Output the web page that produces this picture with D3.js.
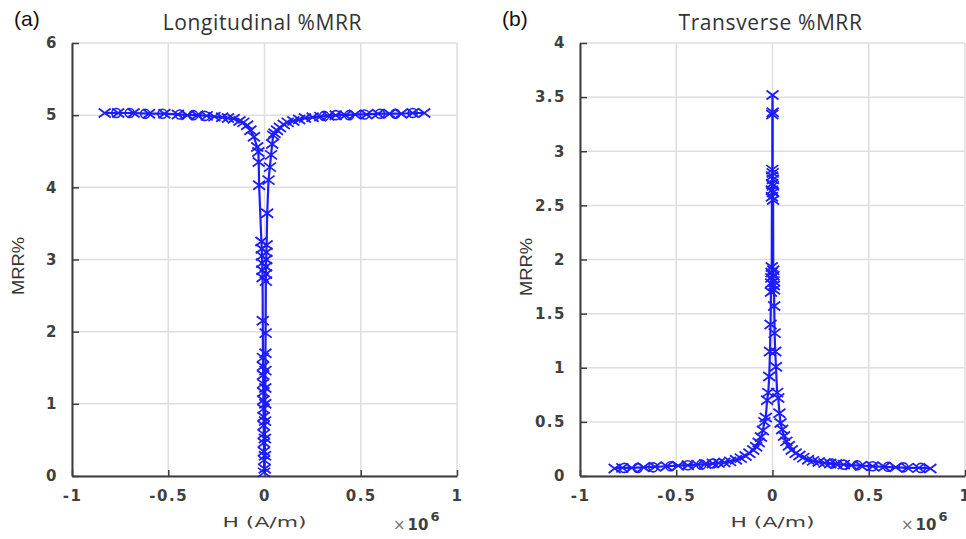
<!DOCTYPE html>
<html>
<head>
<meta charset="utf-8">
<script src="https://cdn.jsdelivr.net/npm/d3@7"></script>
<style>
  html, body { margin: 0; padding: 0; background: #ffffff; }
  svg { display: block; }
</style>
</head>
<body>
<svg id="chart" width="966" height="539"></svg>
<script>
// ---------------- DATA ----------------
const xTicks = [-1, -0.5, 0, 0.5, 1];
const xTickLabels = ["-1", "-0.5", "0", "0.5", "1"];
const longYTicks = [0, 1, 2, 3, 4, 5, 6];
const longYTickLabels = ["0", "1", "2", "3", "4", "5", "6"];
const transYTicks = [0, 0.5, 1, 1.5, 2, 2.5, 3, 3.5, 4];
const transYTickLabels = ["0", "0.5", "1", "1.5", "2", "2.5", "3", "3.5", "4"];

// Longitudinal sweep (x markers), H in units of 1e6 A/m
const longSweepH = [0.83, 0.77, 0.71, 0.65, 0.59, 0.53, 0.47, 0.42, 0.37, 0.33, 0.29, 0.25, 0.21, 0.18, 0.15, 0.12, 0.10, 0.08, 0.065, 0.052, 0.045, 0.04, 0.034, 0.028, 0.021, 0.014,
  0.011, 0.010, 0.009, 0.008, 0.008, 0.007, 0.006, 0.005, 0.005, 0.004, 0.004, 0.003, 0.002, 0.002, 0.001,
  -0.002, -0.002, -0.003, -0.003, -0.004, -0.004, -0.005, -0.005, -0.006, -0.006, -0.007, -0.007, -0.008, -0.008, -0.009, -0.010, -0.011, -0.012, -0.013, -0.014, -0.016,
  -0.028, -0.030, -0.032, -0.038, -0.055, -0.073, -0.09, -0.11, -0.13, -0.16, -0.19, -0.22, -0.26, -0.30, -0.35, -0.40, -0.45, -0.52, -0.60, -0.68, -0.76, -0.83];
const longSweepMRR = [5.03, 5.03, 5.02, 5.02, 5.02, 5.01, 5.01, 5.0, 5.0, 4.99, 4.98, 4.97, 4.96, 4.94, 4.92, 4.90, 4.87, 4.83, 4.79, 4.75, 4.72, 4.60, 4.45, 4.28, 4.10, 3.64,
  3.20, 3.10, 3.00, 2.90, 2.80, 2.70, 1.98, 1.70, 1.46, 1.22, 1.00, 0.76, 0.52, 0.28, 0.10,
  0.05, 0.22, 0.34, 0.46, 0.58, 0.70, 0.82, 0.93, 1.05, 1.16, 1.28, 1.40, 1.52, 1.64, 2.15, 2.75, 2.85, 2.95, 3.05, 3.15, 3.25,
  4.03, 4.35, 4.49, 4.56, 4.70, 4.79, 4.86, 4.90, 4.92, 4.95, 4.96, 4.97, 4.98, 4.99, 5.0, 5.0, 5.01, 5.02, 5.02, 5.03, 5.03, 5.03];
// Longitudinal circle-marker points (outer regions)
const longOpenLeftH = [-0.77, -0.70, -0.62, -0.53, -0.44, -0.37, -0.31];
const longOpenLeftMRR = [5.03, 5.03, 5.02, 5.02, 5.01, 5.0, 4.99];
const longOpenRightH = [0.31, 0.37, 0.44, 0.52, 0.60, 0.68, 0.77];
const longOpenRightMRR = [4.99, 5.0, 5.0, 5.01, 5.02, 5.02, 5.03];

// Transverse sweep (x markers)
const transSweepH = [0.82, 0.76, 0.70, 0.64, 0.58, 0.52, 0.46, 0.41, 0.37, 0.33, 0.30, 0.27, 0.24, 0.21, 0.185, 0.16, 0.14, 0.12, 0.10, 0.085, 0.072, 0.06, 0.05, 0.042, 0.036, 0.03, 0.024, 0.018, 0.014, 0.011, 0.009, 0.008, 0.007, 0.006, 0.005, 0.004, 0.003, 0.003, 0.002, 0.002, 0.001, 0.001, 0.0,
  -0.001, -0.001, -0.002, -0.002, -0.003, -0.003, -0.004, -0.005, -0.006, -0.007, -0.008, -0.010, -0.013, -0.017, -0.022, -0.028, -0.035, -0.042, -0.05, -0.06, -0.072, -0.085, -0.10, -0.12, -0.14, -0.165, -0.19, -0.22, -0.25, -0.28, -0.31, -0.35, -0.39, -0.44, -0.49, -0.55, -0.61, -0.67, -0.73, -0.78, -0.82];
const transSweepMRR = [0.07, 0.075, 0.075, 0.08, 0.085, 0.09, 0.095, 0.10, 0.105, 0.11, 0.115, 0.12, 0.13, 0.14, 0.15, 0.17, 0.19, 0.21, 0.24, 0.28, 0.32, 0.37, 0.43, 0.49, 0.58, 0.72, 0.77, 1.01, 1.15, 1.32, 1.57, 1.72, 1.76, 1.80, 1.85, 1.90, 2.55, 2.62, 2.68, 2.74, 2.80, 3.36, 3.52,
  3.34, 2.83, 2.77, 2.70, 2.64, 2.58, 1.93, 1.88, 1.83, 1.78, 1.70, 1.40, 1.15, 0.92, 0.77, 0.70, 0.54, 0.50, 0.42, 0.36, 0.31, 0.27, 0.24, 0.21, 0.185, 0.165, 0.15, 0.135, 0.125, 0.12, 0.115, 0.11, 0.105, 0.10, 0.095, 0.09, 0.085, 0.08, 0.075, 0.075, 0.07];
const transOpenLeftH = [-0.77, -0.70, -0.62, -0.53, -0.44, -0.37, -0.31];
const transOpenLeftMRR = [0.075, 0.075, 0.08, 0.09, 0.10, 0.105, 0.115];
const transOpenRightH = [0.31, 0.37, 0.44, 0.52, 0.60, 0.68, 0.77];
const transOpenRightMRR = [0.115, 0.105, 0.10, 0.09, 0.085, 0.08, 0.075];

const titles = ["Longitudinal %MRR", "Transverse %MRR"];
const panelTags = ["(a)", "(b)"];
const xLabel = "H (A/m)";
const yLabel = "MRR%";

// ---------------- DRAW ----------------
const svg = d3.select("#chart");
const zip = (a, b) => a.map((v, i) => [v, b[i]]);
const BLUE = "#0a0aff";

function drawPanel(cfg) {
  const g = svg.append("g");
  const x = d3.scaleLinear().domain([-1, 1]).range([cfg.left, cfg.right]);
  const y = d3.scaleLinear().domain([0, cfg.yMax]).range([cfg.bottom, cfg.top]);

  // grid
  g.append("g").selectAll("line").data(xTicks).join("line")
    .attr("x1", d => x(d)).attr("x2", d => x(d))
    .attr("y1", cfg.top).attr("y2", cfg.bottom)
    .attr("stroke", "#dedede").attr("stroke-width", 1.5);
  g.append("g").selectAll("line").data(cfg.yTicks).join("line")
    .attr("x1", cfg.left).attr("x2", cfg.right)
    .attr("y1", d => y(d)).attr("y2", d => y(d))
    .attr("stroke", "#dedede").attr("stroke-width", 1.5);

  // axes
  const xAxis = d3.axisBottom(x).tickValues(xTicks).tickFormat((d, i) => xTickLabels[i])
    .tickSizeInner(-6).tickSizeOuter(0).tickPadding(14);
  const yAxis = d3.axisLeft(y).tickValues(cfg.yTicks).tickFormat((d, i) => cfg.yTickLabels[i])
    .tickSizeInner(-7).tickSizeOuter(0).tickPadding(14);
  const gx = g.append("g").attr("transform", `translate(0,${cfg.bottom})`).call(xAxis);
  const gy = g.append("g").attr("transform", `translate(${cfg.left},0)`).call(yAxis);
  [gx, gy].forEach(a => {
    a.select(".domain").attr("stroke", "#3c3c3c").attr("stroke-width", 2);
    a.selectAll(".tick line").attr("stroke", "#3c3c3c").attr("stroke-width", 1.5);
    a.selectAll(".tick text")
      .attr("font-family", "DejaVu Sans").attr("font-weight", "bold")
      .attr("font-size", 15).attr("letter-spacing", 1.5).attr("fill", "#404040");
  });
  gx.selectAll(".tick text").attr("dy", "0.71em");

  // data line + markers
  const line = d3.line().x(d => x(d[0])).y(d => y(d[1]));
  const sweep = zip(cfg.sweepH, cfg.sweepV);
  const data = g.append("g").attr("opacity", 0.92);
  data.append("path").datum(sweep).attr("d", line)
    .attr("fill", "none").attr("stroke", BLUE).attr("stroke-width", 2.2);
  const s = 6;
  data.append("g").selectAll("path").data(sweep).join("path")
    .attr("d", d => {
      const cx = x(d[0]), cy = y(d[1]);
      return `M${cx - s},${cy - s * 0.75}L${cx + s},${cy + s * 0.75}M${cx - s},${cy + s * 0.75}L${cx + s},${cy - s * 0.75}`;
    })
    .attr("stroke", BLUE).attr("stroke-width", 1.8).attr("fill", "none");
  [zip(cfg.openLH, cfg.openLV), zip(cfg.openRH, cfg.openRV)].forEach(pts => {
    data.append("g").selectAll("circle").data(pts).join("circle")
      .attr("cx", d => x(d[0])).attr("cy", d => y(d[1])).attr("r", 4.5)
      .attr("fill", "none").attr("stroke", BLUE).attr("stroke-width", 1.6);
  });

  // titles and labels
  const mid = (cfg.left + cfg.right) / 2;
  g.append("text").attr("x", mid - 2).attr("y", 30).attr("text-anchor", "middle")
    .attr("font-family", "Open Sans").attr("font-size", 21).attr("fill", "#333")
    .attr("letter-spacing", 0.6).text(cfg.title);
  g.append("text").attr("x", cfg.tagX).attr("y", 26)
    .attr("font-family", "Liberation Sans").attr("font-size", 21).attr("fill", "#111")
    .text(cfg.tag);
  g.append("text").attr("x", x(0) - 42).attr("y", 527)
    .attr("font-family", "DejaVu Sans").attr("font-size", 14).attr("fill", "#404040")
    .attr("textLength", 84).attr("lengthAdjust", "spacingAndGlyphs").text(xLabel);
  g.append("text").attr("transform", `translate(${cfg.left - 48},${cfg.yLabelY}) rotate(-90)`)
    .attr("text-anchor", "middle")
    .attr("font-family", "Liberation Sans").attr("font-size", 17).attr("fill", "#333")
    .attr("textLength", 58).attr("lengthAdjust", "spacingAndGlyphs").text(yLabel);
  const ex = g.append("text").attr("x", cfg.right - 64).attr("y", 530)
    .attr("font-family", "DejaVu Sans").attr("fill", "#404040");
  ex.append("tspan").attr("font-size", 15).attr("fill", "#777").text("\u00d7");
  ex.append("tspan").attr("font-size", 15).attr("font-weight", "bold").attr("dx", 2).text("10");
  ex.append("tspan").attr("font-size", 13).attr("font-weight", "bold").attr("dx", 2).attr("dy", -9).text("6");
}

drawPanel({
  left: 72, right: 457, top: 43, bottom: 476, yMax: 6,
  yTicks: longYTicks, yTickLabels: longYTickLabels,
  sweepH: longSweepH, sweepV: longSweepMRR,
  openLH: longOpenLeftH, openLV: longOpenLeftMRR, openRH: longOpenRightH, openRV: longOpenRightMRR,
  title: titles[0], tag: panelTags[0], tagX: 14, yLabelY: 266
});
drawPanel({
  left: 580, right: 965, top: 43, bottom: 476, yMax: 4,
  yTicks: transYTicks, yTickLabels: transYTickLabels,
  sweepH: transSweepH, sweepV: transSweepMRR,
  openLH: transOpenLeftH, openLV: transOpenLeftMRR, openRH: transOpenRightH, openRV: transOpenRightMRR,
  title: titles[1], tag: panelTags[1], tagX: 502, yLabelY: 267
});
</script>
</body>
</html>
